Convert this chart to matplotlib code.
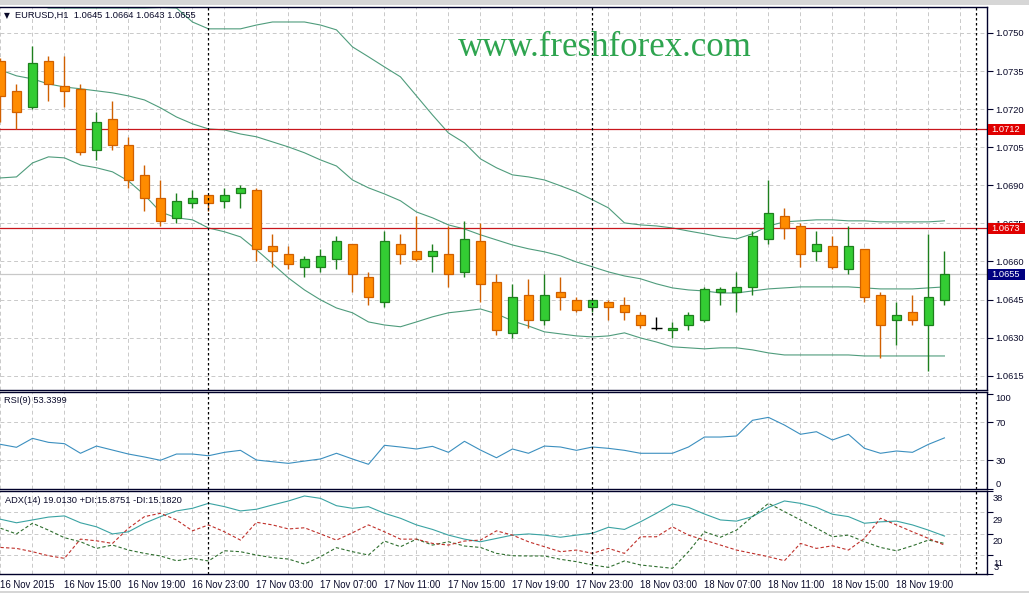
import matplotlib
matplotlib.use("Agg")
import matplotlib.pyplot as plt
import matplotlib.transforms as mtransforms
from matplotlib.patches import Rectangle
import numpy as np
import pandas as pd

W, H = 1029, 593

# ---------------- data ----------------
header_text = "EURUSD,H1  1.0645 1.0664 1.0643 1.0655"
rsi_header = "RSI(9) 53.3399"
adx_header = "ADX(14) 19.0130 +DI:15.8751 -DI:15.1820"
watermark = "www.freshforex.com"
start_time = "2015-11-16 11:00"

opens = [1.0739, 1.0727, 1.0721, 1.0739, 1.0729, 1.0728, 1.0704, 1.0716, 1.0706, 1.0694,
         1.0685, 1.0677, 1.0683, 1.0686, 1.0684, 1.0687, 1.0688, 1.0666, 1.0663, 1.0658,
         1.0658, 1.0661, 1.0667, 1.0654, 1.0644, 1.0667, 1.0664, 1.0662, 1.0663, 1.0656,
         1.0668, 1.0652, 1.0632, 1.0647, 1.0637, 1.0648, 1.0645, 1.0642, 1.0644, 1.0643,
         1.0639, 1.0634, 1.0633, 1.0635, 1.0637, 1.0648, 1.0648, 1.0650, 1.0669, 1.0678,
         1.0674, 1.0664, 1.0666, 1.0657, 1.0665, 1.0647, 1.0637, 1.0640, 1.0635, 1.0645]
highs = [1.0740, 1.0730, 1.0745, 1.0741, 1.0741, 1.0730, 1.0719, 1.0723, 1.0709, 1.0698,
         1.0692, 1.0687, 1.0688, 1.0686, 1.0689, 1.0690, 1.0689, 1.0671, 1.0666, 1.0662,
         1.0665, 1.0670, 1.0667, 1.0656, 1.0672, 1.0671, 1.0678, 1.0667, 1.0674, 1.0676,
         1.0675, 1.0655, 1.0651, 1.0653, 1.0655, 1.0654, 1.0646, 1.0645, 1.0645, 1.0646,
         1.0640, 1.0638, 1.0636, 1.0640, 1.0650, 1.0650, 1.0656, 1.0672, 1.0692, 1.0681,
         1.0675, 1.0672, 1.0670, 1.0674, 1.0665, 1.0648, 1.0644, 1.0647, 1.0671, 1.0664]
lows = [1.0715, 1.0712, 1.0720, 1.0723, 1.0721, 1.0702, 1.0700, 1.0704, 1.0689, 1.0680,
        1.0674, 1.0675, 1.0681, 1.0680, 1.0681, 1.0681, 1.0660, 1.0658, 1.0657, 1.0654,
        1.0656, 1.0657, 1.0648, 1.0643, 1.0642, 1.0659, 1.0660, 1.0656, 1.0650, 1.0654,
        1.0644, 1.0631, 1.0630, 1.0634, 1.0635, 1.0641, 1.0640, 1.0640, 1.0637, 1.0637,
        1.0634, 1.0633, 1.0630, 1.0633, 1.0636, 1.0643, 1.0640, 1.0647, 1.0667, 1.0669,
        1.0658, 1.0660, 1.0657, 1.0655, 1.0644, 1.0622, 1.0627, 1.0635, 1.0617, 1.0643]
closes = [1.0725, 1.0719, 1.0738, 1.0730, 1.0727, 1.0703, 1.0715, 1.0706, 1.0692, 1.0685,
          1.0676, 1.0684, 1.0685, 1.0683, 1.0686, 1.0689, 1.0665, 1.0664, 1.0659, 1.0661,
          1.0662, 1.0668, 1.0655, 1.0646, 1.0668, 1.0663, 1.0661, 1.0664, 1.0655, 1.0669,
          1.0651, 1.0633, 1.0646, 1.0637, 1.0647, 1.0646, 1.0641, 1.0645, 1.0642, 1.0640,
          1.0635, 1.0634, 1.0634, 1.0639, 1.0649, 1.0649, 1.0650, 1.0670, 1.0679, 1.0673,
          1.0663, 1.0667, 1.0658, 1.0666, 1.0646, 1.0635, 1.0639, 1.0637, 1.0646, 1.0655]

bb_upper = [1.07709, 1.07650, 1.07620, 1.07598, 1.07598, 1.07598, 1.07598, 1.07598, 1.07598, 1.07598,
            1.07600, 1.07598, 1.07543, 1.07516, 1.07516, 1.07516, 1.07531, 1.07543, 1.07543, 1.07543,
            1.07531, 1.07512, 1.07445, 1.07406, 1.07366, 1.07327, 1.07252, 1.07177, 1.07106, 1.07067,
            1.07004, 1.06969, 1.06941, 1.06933, 1.06921, 1.06898, 1.06874, 1.06843, 1.06811, 1.06752,
            1.06744, 1.06740, 1.06732, 1.06720, 1.06709, 1.06697, 1.06689, 1.06709, 1.06740, 1.06756,
            1.06760, 1.06764, 1.06764, 1.06760, 1.06760, 1.06756, 1.06756, 1.06756, 1.06756, 1.06760]
bb_middle = [1.07354, 1.07331, 1.07319, 1.07299, 1.07287, 1.07280, 1.07272, 1.07264, 1.07252, 1.07236,
             1.07205, 1.07169, 1.07142, 1.07122, 1.07118, 1.07102, 1.07091, 1.07071, 1.07051, 1.07028,
             1.07000, 1.06976, 1.06921, 1.06890, 1.06866, 1.06839, 1.06795, 1.06772, 1.06744, 1.06728,
             1.06705, 1.06685, 1.06665, 1.06650, 1.06638, 1.06622, 1.06598, 1.06579, 1.06559, 1.06543,
             1.06532, 1.06512, 1.06496, 1.06488, 1.06484, 1.06476, 1.06476, 1.06484, 1.06492, 1.06496,
             1.06500, 1.06500, 1.06500, 1.06500, 1.06496, 1.06492, 1.06492, 1.06492, 1.06496, 1.06500]
bb_lower = [1.06929, 1.06933, 1.06988, 1.07012, 1.07008, 1.06980, 1.06969, 1.06953, 1.06917, 1.06862,
            1.06795, 1.06772, 1.06764, 1.06732, 1.06717, 1.06697, 1.06646, 1.06591, 1.06535, 1.06488,
            1.06449, 1.06417, 1.06398, 1.06362, 1.06350, 1.06343, 1.06362, 1.06382, 1.06398, 1.06405,
            1.06413, 1.06394, 1.06366, 1.06346, 1.06323, 1.06315, 1.06307, 1.06303, 1.06307, 1.06319,
            1.06299, 1.06283, 1.06264, 1.06260, 1.06256, 1.06260, 1.06260, 1.06252, 1.06240, 1.06232,
            1.06232, 1.06232, 1.06232, 1.06232, 1.06228, 1.06228, 1.06228, 1.06228, 1.06228, 1.06228]

rsi = [46.5, 43.4, 52.8, 48.6, 47.2, 37.1, 44.7, 40.5, 36.3, 33.2,
       29.7, 36.3, 36.3, 34.5, 38.1, 40.2, 30.0, 28.2, 26.5, 28.9,
       31.1, 37.1, 31.1, 25.5, 45.5, 43.7, 41.6, 44.4, 38.1, 49.7,
       40.5, 32.4, 41.6, 37.1, 44.7, 43.7, 40.2, 43.7, 42.3, 40.2,
       37.1, 37.1, 37.1, 43.7, 54.2, 54.2, 55.3, 71.8, 74.9, 66.8,
       57.1, 59.8, 51.1, 57.1, 42.3, 37.1, 39.5, 38.1, 46.5, 53.3]

adx = [26.1, 24.6, 25.8, 27.0, 27.5, 24.6, 22.9, 19.9, 20.8, 24.4,
       27.2, 29.6, 30.7, 32.8, 31.4, 29.6, 30.3, 32.1, 33.8, 35.9,
       34.9, 31.8, 30.7, 31.4, 28.6, 26.5, 23.7, 21.8, 19.4, 17.7,
       16.6, 18.0, 19.4, 19.9, 19.4, 18.5, 19.4, 20.2, 22.7, 21.8,
       25.0, 28.6, 32.5, 31.1, 28.3, 25.8, 25.3, 27.2, 31.1, 33.8,
       32.8, 31.1, 28.2, 27.2, 24.4, 25.0, 25.3, 23.7, 21.5, 19.0]
plus_di = [22.3, 19.9, 24.4, 21.5, 18.3, 16.6, 13.8, 15.2, 13.1, 11.7,
           10.6, 8.6, 9.6, 8.5, 12.8, 12.4, 11.0, 9.9, 9.3, 7.2,
           10.3, 14.1, 12.4, 11.0, 16.9, 14.5, 17.7, 15.2, 16.6, 14.8,
           14.2, 11.7, 10.7, 10.6, 10.6, 9.2, 8.2, 6.8, 5.8, 8.5,
           6.8, 6.1, 5.4, 12.4, 20.8, 18.5, 21.5, 27.2, 32.8, 29.3,
           25.8, 22.3, 18.7, 19.4, 16.6, 14.2, 12.8, 14.9, 17.3, 15.9]
minus_di = [14.2, 13.8, 12.4, 10.7, 9.6, 17.7, 17.0, 15.9, 22.3, 27.2,
            28.6, 25.8, 21.2, 23.7, 20.8, 17.3, 24.8, 23.7, 22.0, 22.5,
            19.9, 17.3, 20.4, 23.7, 20.8, 17.7, 17.7, 15.9, 15.2, 16.9,
            17.3, 21.2, 19.4, 16.6, 14.5, 12.4, 13.1, 11.7, 13.8, 11.7,
            18.7, 18.7, 22.9, 19.4, 17.3, 15.2, 13.1, 11.7, 10.3, 8.6,
            15.9, 13.8, 14.9, 13.1, 18.0, 26.5, 23.7, 20.8, 18.0, 15.2]

time_labels = ["16 Nov 2015", "16 Nov 15:00", "16 Nov 19:00", "16 Nov 23:00",
               "17 Nov 03:00", "17 Nov 07:00", "17 Nov 11:00", "17 Nov 15:00",
               "17 Nov 19:00", "17 Nov 23:00", "18 Nov 03:00", "18 Nov 07:00",
               "18 Nov 11:00", "18 Nov 15:00", "18 Nov 19:00"]
price_ticks = [1.0615, 1.0630, 1.0645, 1.0660, 1.0675, 1.0690, 1.0705, 1.0720, 1.0735, 1.0750]
level_lines = [1.0712, 1.0673]
bid_price = 1.0655
rsi_levels = [70, 30]
rsi_labels = [100, 70, 30, 0]
adx_levels = [29, 20, 11]
adx_labels = [38, 29, 20, 11, 3]

# ---------------- style ----------------
FONT = ["Liberation Sans", "DejaVu Sans"]
plt.rcParams["font.family"] = FONT
TXT = "#0a0a2a"
SPINE = "#00002a"
GRID = "#c9c9c9"
UP_FILL, UP_EDGE = "#33cc33", "#1d7f1d"
DN_FILL, DN_EDGE = "#ff8c00", "#d06000"
BAND = "#4f9c7c"
FS = 6.7

fig = plt.figure(figsize=(W / 100, H / 100), dpi=100, facecolor="white")


def px_rect(x0, y0, x1, y1):
    return [x0 / W, 1 - y1 / H, (x1 - x0) / W, (y1 - y0) / H]


ax_main = fig.add_axes(px_rect(0, 7, 987, 390))
ax_rsi = fig.add_axes(px_rect(0, 392, 987, 489))
ax_adx = fig.add_axes(px_rect(0, 491, 987, 574))

n = len(opens)
xs = np.arange(n)
times = pd.date_range(start_time, periods=62, freq="h")
separators = [i for i, t in enumerate(times) if t.hour == 0]
grid_x = np.arange(0, 62, 2)

for ax in (ax_main, ax_rsi, ax_adx):
    ax.set_xlim(-0.03, 61.66)
    ax.set_facecolor("white")
    for s in ("top", "bottom", "right"):
        ax.spines[s].set_color(SPINE)
        ax.spines[s].set_linewidth(1.0)
    ax.spines["left"].set_visible(False)
    ax.set_xticks(grid_x)
    ax.tick_params(axis="x", length=0, labelbottom=False)
    ax.grid(axis="x", color=GRID, linestyle=(0, (4, 3)), linewidth=0.7)
    ax.yaxis.tick_right()
    ax.tick_params(axis="y", direction="out", length=4, width=0.8, color=SPINE,
                   labelsize=FS, labelcolor=TXT, pad=2)
    for sp in separators:
        ax.axvline(sp, color="black", linestyle=(0, (2, 2)), linewidth=0.9, zorder=4)

# ---------------- main price panel ----------------
ax_main.set_ylim(1.06094, 1.07602)
ax_main.set_yticks(price_ticks)
ax_main.set_yticklabels([f"{p:.4f}" for p in price_ticks])
ax_main.grid(axis="y", color=GRID, linestyle=(0, (4, 3)), linewidth=0.7)

ax_main.plot(xs, bb_upper, color=BAND, lw=0.8, zorder=2)
ax_main.plot(xs, bb_middle, color=BAND, lw=0.8, zorder=2)
ax_main.plot(xs, bb_lower, color=BAND, lw=0.8, zorder=2)

for lv in level_lines:
    ax_main.axhline(lv, color="#c8161d", lw=0.9, zorder=2.5)
ax_main.axhline(bid_price, color="#c8c8c8", lw=0.9, zorder=1.8)

o = np.array(opens); c = np.array(closes); hi = np.array(highs); lo = np.array(lows)
fills, edges = [], []
for oo, cc in zip(o, c):
    if cc > oo:
        fills.append(UP_FILL); edges.append(UP_EDGE)
    elif cc < oo:
        fills.append(DN_FILL); edges.append(DN_EDGE)
    else:
        fills.append("black"); edges.append("black")
ax_main.vlines(xs, lo, hi, colors=edges, linewidth=1.0, zorder=3)
body_lo = np.minimum(o, c)
body_h = np.abs(c - o)
mask = body_h > 0
ax_main.bar(xs[mask], body_h[mask], bottom=body_lo[mask], width=0.6,
            color=np.array(fills)[mask], edgecolor=np.array(edges)[mask],
            linewidth=0.9, zorder=3.5)
for i in xs[~mask]:
    ax_main.hlines(o[i], i - 0.35, i + 0.35, colors="black", linewidth=1.0, zorder=3.5)

# price labels on the right axis
blend_main = mtransforms.blended_transform_factory(ax_main.transAxes, ax_main.transData)
box_w = 37 / 987
box_h = 11 / 25.41 * 0.001
for lv, fc in [(level_lines[0], "#e00000"), (level_lines[1], "#e00000"), (bid_price, "#000080")]:
    ax_main.add_patch(Rectangle((1.0 + 1 / 987, lv - box_h / 2), box_w, box_h,
                                transform=blend_main, facecolor=fc, edgecolor="none",
                                clip_on=False, zorder=10))
    ax_main.text(1.0 + 4 / 987, lv, f"{lv:.4f}", transform=blend_main, color="white",
                 fontsize=FS, va="center", ha="left", clip_on=False, zorder=11)

# ---------------- RSI panel ----------------
ax_rsi.set_ylim(-0.5, 101.6)
ax_rsi.plot(xs, rsi, color="#3b8fbf", lw=0.8, zorder=3)
for lv in rsi_levels:
    ax_rsi.axhline(lv, color=GRID, linestyle=(0, (4, 3)), linewidth=0.7, zorder=1)
ax_rsi.set_yticks(rsi_labels)
ax_rsi.set_yticklabels([str(v) for v in rsi_labels])
rl = ax_rsi.get_yticklabels()
rl[0].set_va("top")
rl[-1].set_va("bottom")

# ---------------- ADX panel ----------------
ax_adx.set_ylim(3, 38)
ax_adx.plot(xs, adx, color="#3aa3a3", lw=0.8, zorder=3)
ax_adx.plot(xs, plus_di, color="#2f6f2f", lw=0.8, linestyle=(0, (3, 2)), zorder=3)
ax_adx.plot(xs, minus_di, color="#c0302a", lw=0.8, linestyle=(0, (3, 2)), zorder=3)
for lv in adx_levels:
    ax_adx.axhline(lv, color=GRID, linestyle=(0, (4, 3)), linewidth=0.7, zorder=1)
ax_adx.set_yticks(adx_labels)
ax_adx.set_yticklabels([""] * len(adx_labels))
blend_adx = mtransforms.blended_transform_factory(ax_adx.transAxes, ax_adx.transData)
for v in adx_labels:
    if v == adx_labels[-1]:
        ax_adx.annotate(str(v), (1.0 + 7 / 987, v), xycoords=blend_adx,
                        xytext=(0, 1.5), textcoords="offset points",
                        fontsize=FS, color=TXT, va="bottom", ha="left", annotation_clip=False)
    else:
        ax_adx.annotate(str(v), (1.0 + 6 / 987, v), xycoords=blend_adx,
                        xytext=(0, -2.5), textcoords="offset points",
                        fontsize=FS, color=TXT, va="top", ha="left", annotation_clip=False)

# ---------------- time labels ----------------
blend_time = mtransforms.blended_transform_factory(ax_adx.transData, fig.transFigure)
label_pos = np.arange(0, n, 4)
for pos, lab in zip(label_pos, time_labels):
    ax_adx.text(pos - 0.03, 1 - 585 / H, lab, transform=blend_time, fontsize=6.9,
                color=TXT, ha="left", va="center", clip_on=False)

# ---------------- headers & decoration ----------------
fig.text(4 / W, 1 - 15.5 / H, "\u25bc", fontsize=5.5, color=TXT, va="center",
         family=["DejaVu Sans"])
fig.text(15 / W, 1 - 15.5 / H, header_text, fontsize=FS, color=TXT, va="center")
fig.text(4 / W, 1 - 400.5 / H, rsi_header, fontsize=FS, color=TXT, va="center")
fig.text(5 / W, 1 - 500.5 / H, adx_header, fontsize=FS, color=TXT, va="center")
fig.text(458 / W, 1 - 48 / H, watermark, fontsize=25, color="#2ea44f", va="center",
         ha="left", family=["Liberation Serif", "DejaVu Serif"])

fig.patches.append(Rectangle((0, 1 - 5 / H), 1, 5 / H, transform=fig.transFigure,
                             facecolor="#d6d6d6", edgecolor="none", zorder=0))
fig.patches.append(Rectangle((0, 0), 1, 2.5 / H, transform=fig.transFigure,
                             facecolor="#d6d6d6", edgecolor="none", zorder=0))

fig.savefig("out.png", dpi=100, facecolor="white")
